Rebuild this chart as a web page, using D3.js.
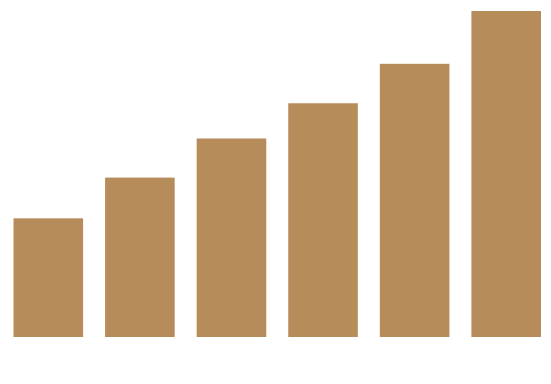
<!DOCTYPE html>
<html>
<head>
<meta charset="utf-8">
<script src="https://cdn.jsdelivr.net/npm/d3@7"></script>
<style>
  html, body { margin: 0; padding: 0; background: #ffffff; }
  svg { display: block; }
</style>
</head>
<body>
<svg id="chart" width="551" height="384"></svg>
<script>
const categories = ["A", "B", "C", "D", "E", "F"];
const values = [36.4, 48.9, 60.9, 71.7, 83.8, 100];

const svg = d3.select("#chart");
const x = d3.scaleBand()
  .domain(categories)
  .range([13.5, 541])
  .paddingInner(0.24)
  .paddingOuter(0);
const y = d3.scaleLinear()
  .domain([0, 100])
  .range([337, 11]);

svg.append("g")
  .selectAll("rect")
  .data(categories)
  .join("rect")
  .attr("x", d => x(d))
  .attr("y", (d, i) => y(values[i]))
  .attr("width", x.bandwidth())
  .attr("height", (d, i) => y(0) - y(values[i]))
  .attr("fill", "#b68c5b");
</script>
</body>
</html>
